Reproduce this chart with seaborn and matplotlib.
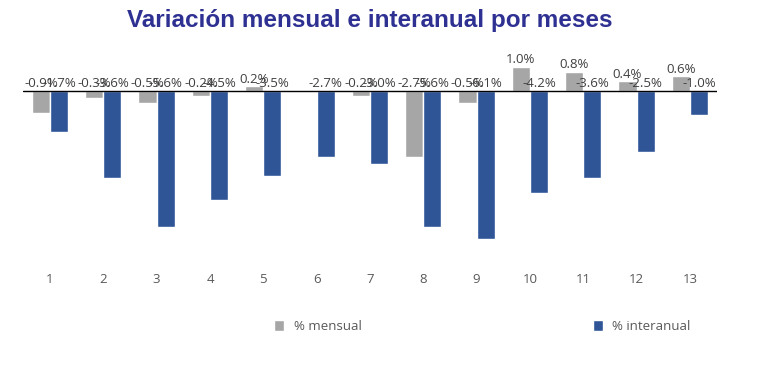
import pandas as pd
import matplotlib.pyplot as plt
import seaborn as sns
from matplotlib.patches import Patch

# data
meses = ["1", "2", "3", "4", "5", "6", "7", "8", "9", "10", "11", "12", "13"]
mensual = [-0.9, -0.3, -0.5, -0.2, 0.2, 0.0, -0.2, -2.7, -0.5, 1.0, 0.8, 0.4, 0.6]
interanual = [-1.7, -3.6, -5.6, -4.5, -3.5, -2.7, -3.0, -5.6, -6.1, -4.2, -3.6, -2.5, -1.0]
series = ["% mensual", "% interanual"]
colores = ["#A6A6A6", "#2F5597"]

df = pd.DataFrame({
    "mes": meses * 2,
    "valor": mensual + interanual,
    "serie": [series[0]] * len(meses) + [series[1]] * len(meses),
})

sns.set_style("white")
plt.rcParams["font.family"] = ["Open Sans", "DejaVu Sans"]

fig = plt.figure(figsize=(7.68, 3.67), dpi=100)
ax = fig.add_axes([23.3 / 768, 0.286, 693.3 / 768, 0.578])

sns.barplot(data=df, x="mes", y="valor", hue="serie", palette=colores,
            width=0.68, saturation=1, legend=False, ax=ax)

ax.set_xlim(-0.5, 12.5)
ax.set_ylim(-7.04, 1.69)
ax.axhline(0, color="black", lw=1)
for s in ax.spines.values():
    s.set_visible(False)
ax.set_yticks([])
ax.set_xlabel("")
ax.set_ylabel("")
ax.tick_params(axis="x", length=0, pad=8, labelsize=9.5, labelcolor="#595959")

# data labels (the zero month has no label in the original)
for cont in ax.containers:
    for bar in cont:
        v = bar.get_height()
        if v == 0:
            continue
        x = bar.get_x() + bar.get_width() / 2
        ax.text(x, max(v, 0) + 0.02, f"{v:.1f}%", ha="center", va="bottom",
                fontsize=9.5, color="#404040")

fig.text(0.482, 0.945, "Variación mensual e interanual por meses", ha="center",
         va="center", fontsize=17.5, fontweight="bold", color="#2E3192",
         family=["Liberation Sans", "DejaVu Sans"])

handles = [Patch(facecolor=c, label=s) for c, s in zip(colores, series)]
fig.legend(handles=handles, loc="center", bbox_to_anchor=(0.628, 0.11), ncol=2,
           frameon=False, fontsize=9.5, labelcolor="#595959", handlelength=0.8,
           handleheight=0.8, handletextpad=0.7, columnspacing=17.5)

plt.savefig("out.png", dpi=100)
